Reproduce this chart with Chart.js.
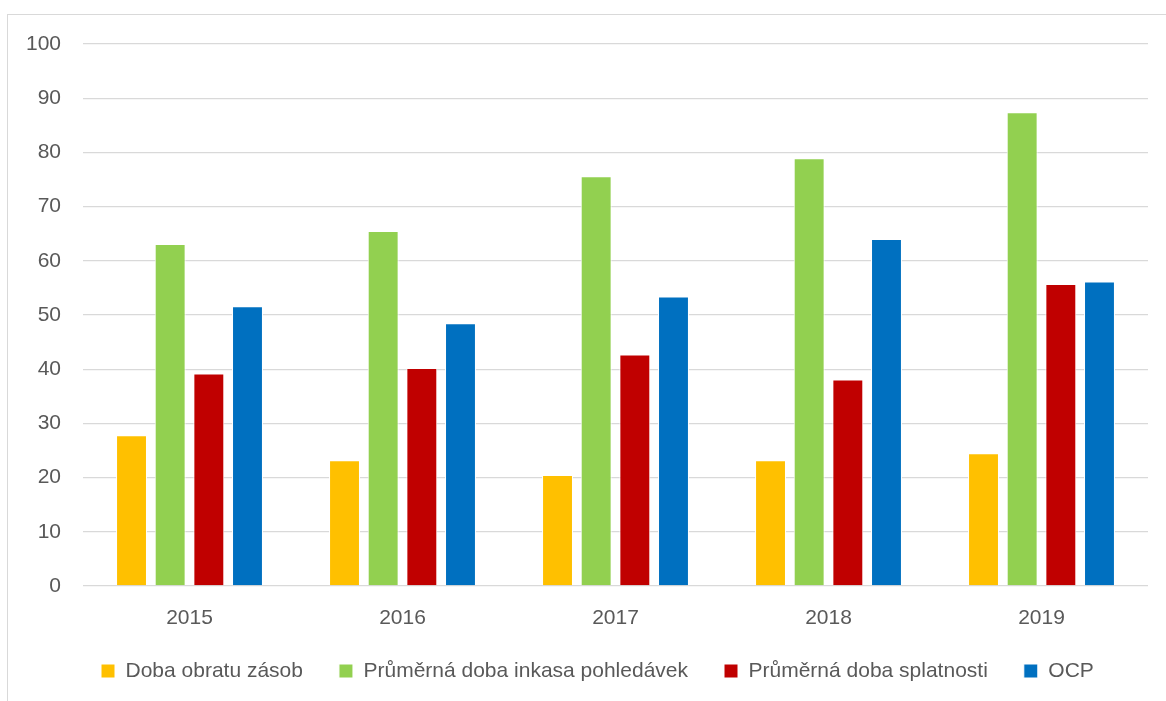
<!DOCTYPE html>
<html>
<head>
<meta charset="utf-8">
<script src="https://cdn.jsdelivr.net/npm/chart.js@4.4.1/dist/chart.umd.min.js"></script>
<style>
  html, body { margin: 0; padding: 0; background: #ffffff; overflow: hidden; }
  .ramecek { position: absolute; left: 7px; top: 14px; width: 1200px; height: 720px; border: 1px solid #d9d9d9; }
  #graf { position: absolute; left: 0; top: 0; }
</style>
</head>
<body>
<div class="ramecek"></div>
<canvas id="graf" width="1166" height="701"></canvas>
<script>
// Roky a ukazatele obratu (dny)
const roky = ['2015', '2016', '2017', '2018', '2019'];
const dobaObratuZasob = [27.8, 23.2, 20.5, 23.2, 24.5];
const dobaInkasa = [63.1, 65.5, 75.6, 78.9, 87.4];
const dobaSplatnosti = [39.2, 40.2, 42.7, 38.1, 55.7];
const ocp = [51.6, 48.5, 53.4, 64.0, 56.2];

const barvaTextu = '#595959';
const pismo = { family: '"Liberation Sans", Arial, sans-serif', size: 21 };

function sloupce(label, data, barva) {
    return {
        label: label,
        data: data,
        backgroundColor: barva,
        borderColor: '#ffffff',
        borderWidth: 1,
        categoryPercentage: 0.726,
        barPercentage: 0.8
    };
}

// legenda zacina pod osou, ne u leveho okraje
const posunLegendy = {
    id: 'posunLegendy',
    afterLayout(chart) {
        chart.legend.left = 65;
    }
};

const ctx = document.getElementById('graf').getContext('2d');
const graf = new Chart(ctx, {
    type: 'bar',
    data: {
        labels: roky,
        datasets: [
            sloupce('Doba obratu zásob', dobaObratuZasob, '#FFC000'),
            sloupce('Průměrná doba inkasa pohledávek', dobaInkasa, '#92D050'),
            sloupce('Průměrná doba splatnosti', dobaSplatnosti, '#C00000'),
            sloupce('OCP', ocp, '#0070C0')
        ]
    },
    options: {
        responsive: false,
        animation: false,
        layout: { padding: { left: 0, right: 18, top: 44, bottom: 9.5 } },
        plugins: {
            tooltip: { enabled: false },
            legend: {
                position: 'bottom',
                align: 'start',
                labels: {
                    boxWidth: 14,
                    boxHeight: 14,
                    padding: 36,
                    color: barvaTextu,
                    font: pismo
                }
            }
        },
        scales: {
            x: {
                grid: { display: false, drawTicks: false },
                border: { display: false },
                ticks: { color: barvaTextu, font: pismo, padding: 20 },
                afterFit: (osa) => { osa.height = 38.5; }
            },
            y: {
                min: 0,
                max: 100,
                grid: { color: '#d9d9d9', lineWidth: 1.3, drawTicks: false },
                border: { display: false },
                ticks: { stepSize: 10, color: barvaTextu, font: pismo, padding: 22 },
                afterFit: (osa) => { osa.width = 83; }
            }
        }
    },
    plugins: [posunLegendy]
});
</script>
</body>
</html>
